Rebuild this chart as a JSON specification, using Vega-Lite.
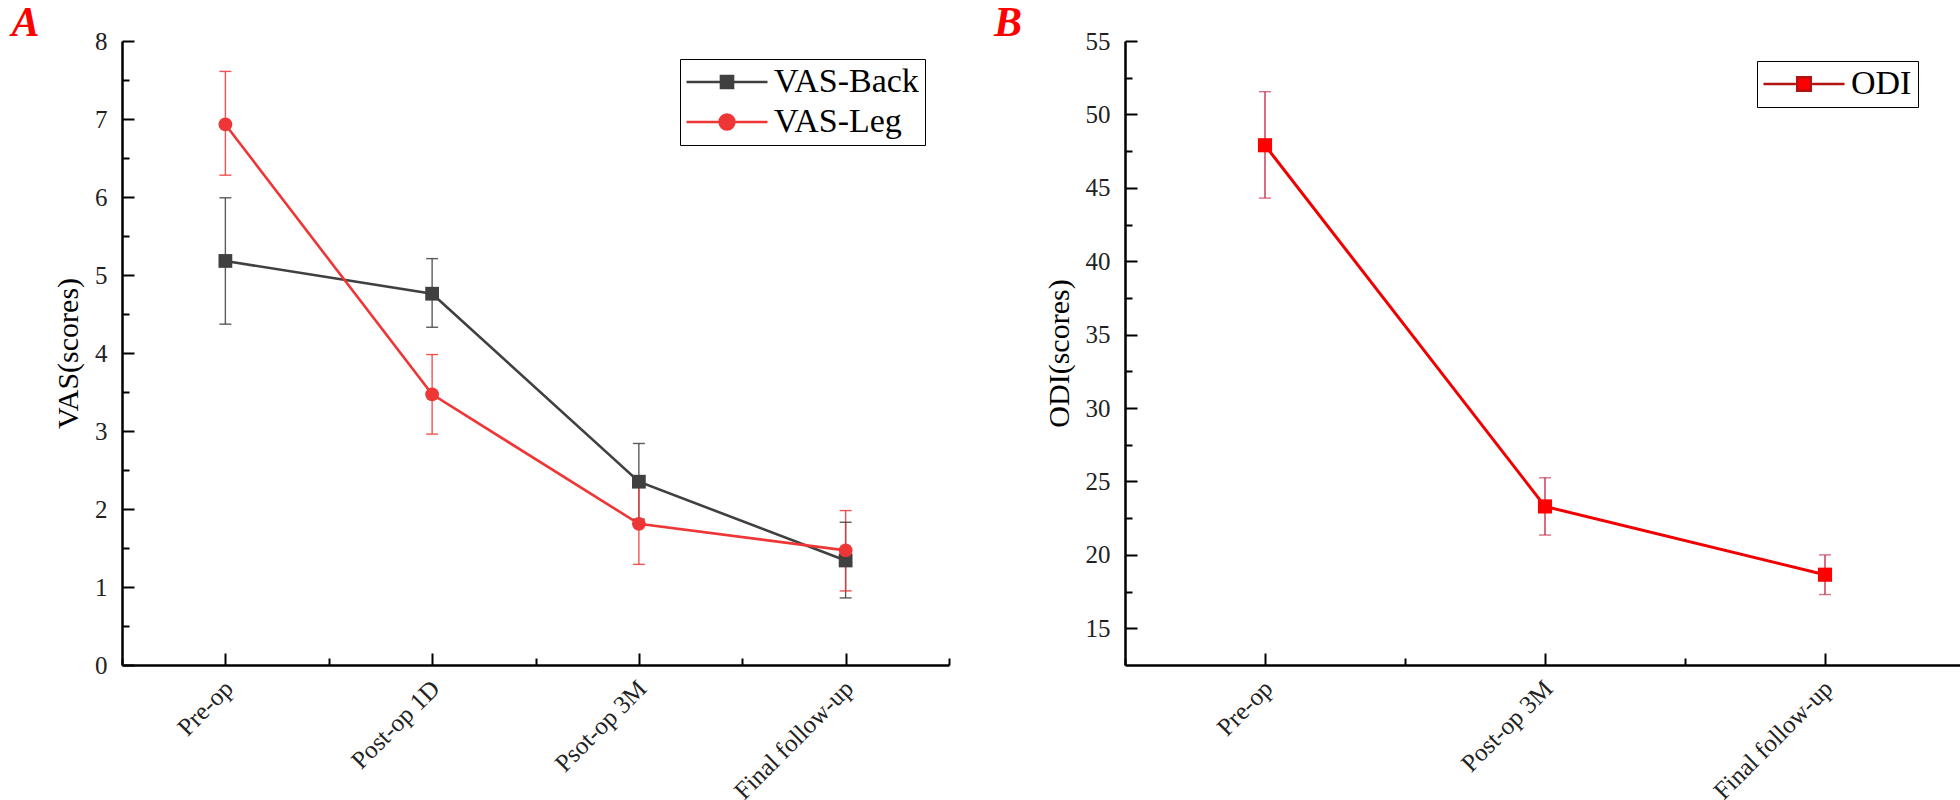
{
  "$schema": "https://vega.github.io/schema/vega-lite/v6.json",
  "autosize": {"type": "pad"},
  "padding": {"left": 11, "top": 2, "right": 0, "bottom": 0},
  "background": "white",
  "config": {
    "view": {"stroke": null},
    "axis": {"domainColor": "#000", "domainWidth": 2.5, "tickColor": "#000", "tickWidth": 2, "labelFont": "Liberation Serif", "labelFontSize": 25, "labelColor": "#222", "titleFont": "Liberation Serif", "titleFontSize": 30, "titleFontWeight": "normal", "titleColor": "#000", "grid": false, "labelOverlap": false, "labelFlush": false, "labelBound": false},
    "legend": {"title": null, "orient": "none", "strokeColor": "#000", "padding": 6, "labelFont": "Liberation Serif", "labelFontSize": 34, "labelColor": "#000", "symbolSize": 729, "symbolStrokeWidth": 2.5, "symbolOpacity": 1, "rowPadding": 6, "labelOffset": 30, "symbolOffset": 24}
  },
  "spacing": 32,
  "resolve": {"scale": {"color": "independent", "stroke": "independent", "shape": "independent"}, "legend": {"color": "independent", "stroke": "independent", "shape": "independent"}},
  "datasets": {
    "vas": [
      {"time": "Pre-op", "t": 0, "series": "VAS-Back", "mean": 5.18, "lo": 4.37, "hi": 5.99},
      {"time": "Post-op 1D", "t": 1, "series": "VAS-Back", "mean": 4.76, "lo": 4.33, "hi": 5.21},
      {"time": "Psot-op 3M", "t": 2, "series": "VAS-Back", "mean": 2.35, "lo": 1.87, "hi": 2.84},
      {"time": "Final follow-up", "t": 3, "series": "VAS-Back", "mean": 1.34, "lo": 0.86, "hi": 1.83},
      {"time": "Pre-op", "t": 0, "series": "VAS-Leg", "mean": 6.93, "lo": 6.28, "hi": 7.61},
      {"time": "Post-op 1D", "t": 1, "series": "VAS-Leg", "mean": 3.47, "lo": 2.96, "hi": 3.98},
      {"time": "Psot-op 3M", "t": 2, "series": "VAS-Leg", "mean": 1.81, "lo": 1.29, "hi": 2.33},
      {"time": "Final follow-up", "t": 3, "series": "VAS-Leg", "mean": 1.47, "lo": 0.95, "hi": 1.98}
    ],
    "odi": [
      {"time": "Pre-op", "t": 0, "series": "ODI", "mean": 47.9, "lo": 44.3, "hi": 51.55},
      {"time": "Post-op 3M", "t": 1, "series": "ODI", "mean": 23.3, "lo": 21.35, "hi": 25.25},
      {"time": "Final follow-up", "t": 2, "series": "ODI", "mean": 18.65, "lo": 17.3, "hi": 20.0}
    ]
  },
  "hconcat": [
    {
      "width": 827,
      "height": 624,
      "title": {"text": "A", "anchor": "start", "frame": "bounds", "font": "Liberation Serif", "fontSize": 42, "fontStyle": "italic", "fontWeight": "bold", "color": "#ff0000", "offset": -16, "dx": -42},
      "data": {"name": "vas"},
      "encoding": {
        "x": {"field": "t", "type": "quantitative", "scale": {"domain": [-0.5, 3.5], "nice": false, "zero": false},
          "axis": {"title": null, "values": [-0.5, 0, 0.5, 1, 1.5, 2, 2.5, 3, 3.5],
            "labelExpr": "datum.value % 1 === 0 ? ['Pre-op','Post-op 1D','Psot-op 3M','Final follow-up'][datum.value] : ''",
            "tickSize": {"condition": {"test": "datum.value % 1 === 0", "value": -12}, "value": -7},
            "labelAngle": -45, "labelAlign": "right", "labelBaseline": "middle", "labelPadding": 31, "labelOffset": 3}},
        "y": {"field": "mean", "type": "quantitative", "scale": {"domain": [0, 8], "nice": false},
          "axis": {"title": "VAS(scores)", "values": [0, 0.5, 1, 1.5, 2, 2.5, 3, 3.5, 4, 4.5, 5, 5.5, 6, 6.5, 7, 7.5, 8],
            "labelExpr": "datum.value % 1 === 0 ? '' + datum.value : ''",
            "tickSize": {"condition": {"test": "datum.value % 1 === 0", "value": -12}, "value": -7},
            "labelPadding": 27, "titlePadding": 11}}
      },
      "layer": [
        {"mark": {"type": "point", "filled": true, "opacity": 0, "size": 190},
          "encoding": {
            "color": {"field": "series", "type": "nominal", "scale": {"domain": ["VAS-Back", "VAS-Leg"], "range": ["#404040", "#ee3636"]},
              "legend": {"legendX": 558, "legendY": 18, "symbolOpacity": 1}},
            "stroke": {"field": "series", "type": "nominal", "scale": {"domain": ["VAS-Back", "VAS-Leg"], "range": ["#404040", "#ee3636"]},
              "legend": {"legendX": 558, "legendY": 18, "symbolOpacity": 1}},
            "shape": {"field": "series", "type": "nominal", "scale": {"domain": ["VAS-Back", "VAS-Leg"], "range": ["M-3,0H3M-0.45,-0.45H0.45V0.45H-0.45Z", "M-3,0H3M-0.55,0A0.55,0.55 0 1,0 0.55,0A0.55,0.55 0 1,0 -0.55,0Z"]},
              "legend": {"legendX": 558, "legendY": 18, "symbolOpacity": 1}}}},
        {"mark": {"type": "line", "strokeWidth": 2.6},
          "encoding": {"color": {"field": "series", "type": "nominal"}}},
        {"mark": {"type": "rule", "strokeWidth": 1.4, "opacity": 0.85},
          "encoding": {
            "y": {"field": "lo", "type": "quantitative",
              "axis": {"title": "VAS(scores)", "values": [0, 0.5, 1, 1.5, 2, 2.5, 3, 3.5, 4, 4.5, 5, 5.5, 6, 6.5, 7, 7.5, 8],
                "labelExpr": "datum.value % 1 === 0 ? '' + datum.value : ''",
                "tickSize": {"condition": {"test": "datum.value % 1 === 0", "value": -12}, "value": -7},
                "labelPadding": 27, "titlePadding": 11}},
            "y2": {"field": "hi"},
            "color": {"field": "series", "type": "nominal"}}},
        {"mark": {"type": "tick", "orient": "horizontal", "size": 12, "thickness": 1.4, "opacity": 0.85},
          "encoding": {
            "y": {"field": "lo", "type": "quantitative",
              "axis": {"title": "VAS(scores)", "values": [0, 0.5, 1, 1.5, 2, 2.5, 3, 3.5, 4, 4.5, 5, 5.5, 6, 6.5, 7, 7.5, 8],
                "labelExpr": "datum.value % 1 === 0 ? '' + datum.value : ''",
                "tickSize": {"condition": {"test": "datum.value % 1 === 0", "value": -12}, "value": -7},
                "labelPadding": 27, "titlePadding": 11}},
            "color": {"field": "series", "type": "nominal"}}},
        {"mark": {"type": "tick", "orient": "horizontal", "size": 12, "thickness": 1.4, "opacity": 0.85},
          "encoding": {
            "y": {"field": "hi", "type": "quantitative",
              "axis": {"title": "VAS(scores)", "values": [0, 0.5, 1, 1.5, 2, 2.5, 3, 3.5, 4, 4.5, 5, 5.5, 6, 6.5, 7, 7.5, 8],
                "labelExpr": "datum.value % 1 === 0 ? '' + datum.value : ''",
                "tickSize": {"condition": {"test": "datum.value % 1 === 0", "value": -12}, "value": -7},
                "labelPadding": 27, "titlePadding": 11}},
            "color": {"field": "series", "type": "nominal"}}},
        {"transform": [{"filter": "datum.series === 'VAS-Back'"}],
          "mark": {"type": "point", "filled": true, "opacity": 1, "shape": "square", "color": "#404040", "size": 190}},
        {"transform": [{"filter": "datum.series === 'VAS-Leg'"}],
          "mark": {"type": "point", "filled": true, "opacity": 1, "shape": "circle", "color": "#ee3636", "size": 190}}
      ]
    },
    {
      "width": 840,
      "height": 624,
      "title": {"text": "B", "anchor": "start", "frame": "bounds", "font": "Liberation Serif", "fontSize": 42, "fontStyle": "italic", "fontWeight": "bold", "color": "#ff0000", "offset": -16, "dx": -50},
      "data": {"name": "odi"},
      "encoding": {
        "x": {"field": "t", "type": "quantitative", "scale": {"domain": [-0.5, 2.5], "nice": false, "zero": false},
          "axis": {"title": null, "values": [-0.5, 0, 0.5, 1, 1.5, 2, 2.5],
            "labelExpr": "datum.value % 1 === 0 ? ['Pre-op','Post-op 3M','Final follow-up'][datum.value] : ''",
            "tickSize": {"condition": {"test": "datum.value % 1 === 0", "value": -12}, "value": -7},
            "labelAngle": -45, "labelAlign": "right", "labelBaseline": "middle", "labelPadding": 31, "labelOffset": 3}},
        "y": {"field": "mean", "type": "quantitative", "scale": {"domain": [12.5, 55], "nice": false, "zero": false},
          "axis": {"title": "ODI(scores)", "values": [15, 17.5, 20, 22.5, 25, 27.5, 30, 32.5, 35, 37.5, 40, 42.5, 45, 47.5, 50, 52.5, 55],
            "labelExpr": "datum.value % 5 === 0 ? '' + datum.value : ''",
            "tickSize": {"condition": {"test": "datum.value % 5 === 0", "value": -12}, "value": -7},
            "labelPadding": 27, "titlePadding": 11}}
      },
      "layer": [
        {"mark": {"type": "point", "filled": true, "opacity": 0, "size": 200},
          "encoding": {
            "color": {"field": "series", "type": "nominal", "scale": {"domain": ["ODI"], "range": ["#ff0000"]},
              "legend": {"legendX": 632, "legendY": 20, "symbolOpacity": 1}},
            "stroke": {"field": "series", "type": "nominal", "scale": {"domain": ["ODI"], "range": ["#b31212"]},
              "legend": {"legendX": 632, "legendY": 20, "symbolOpacity": 1}},
            "shape": {"field": "series", "type": "nominal", "scale": {"domain": ["ODI"], "range": ["M-3,0H-0.6M0.6,0H3M-0.5,-0.5H0.5V0.5H-0.5Z"]},
              "legend": {"legendX": 632, "legendY": 20, "symbolOpacity": 1}}}},
        {"mark": {"type": "line", "strokeWidth": 3, "color": "#f00000"}},
        {"mark": {"type": "rule", "strokeWidth": 1.4, "color": "#c8324b"},
          "encoding": {
            "y": {"field": "lo", "type": "quantitative",
              "axis": {"title": "ODI(scores)", "values": [15, 17.5, 20, 22.5, 25, 27.5, 30, 32.5, 35, 37.5, 40, 42.5, 45, 47.5, 50, 52.5, 55],
                "labelExpr": "datum.value % 5 === 0 ? '' + datum.value : ''",
                "tickSize": {"condition": {"test": "datum.value % 5 === 0", "value": -12}, "value": -7},
                "labelPadding": 27, "titlePadding": 11}},
            "y2": {"field": "hi"}}},
        {"mark": {"type": "tick", "orient": "horizontal", "size": 12, "thickness": 1.4, "color": "#c8324b"},
          "encoding": {
            "y": {"field": "lo", "type": "quantitative",
              "axis": {"title": "ODI(scores)", "values": [15, 17.5, 20, 22.5, 25, 27.5, 30, 32.5, 35, 37.5, 40, 42.5, 45, 47.5, 50, 52.5, 55],
                "labelExpr": "datum.value % 5 === 0 ? '' + datum.value : ''",
                "tickSize": {"condition": {"test": "datum.value % 5 === 0", "value": -12}, "value": -7},
                "labelPadding": 27, "titlePadding": 11}}}},
        {"mark": {"type": "tick", "orient": "horizontal", "size": 12, "thickness": 1.4, "color": "#c8324b"},
          "encoding": {
            "y": {"field": "hi", "type": "quantitative",
              "axis": {"title": "ODI(scores)", "values": [15, 17.5, 20, 22.5, 25, 27.5, 30, 32.5, 35, 37.5, 40, 42.5, 45, 47.5, 50, 52.5, 55],
                "labelExpr": "datum.value % 5 === 0 ? '' + datum.value : ''",
                "tickSize": {"condition": {"test": "datum.value % 5 === 0", "value": -12}, "value": -7},
                "labelPadding": 27, "titlePadding": 11}}}},
        {"mark": {"type": "point", "filled": true, "opacity": 1, "shape": "square", "color": "#ff0000", "size": 200}}
      ]
    }
  ]
}
